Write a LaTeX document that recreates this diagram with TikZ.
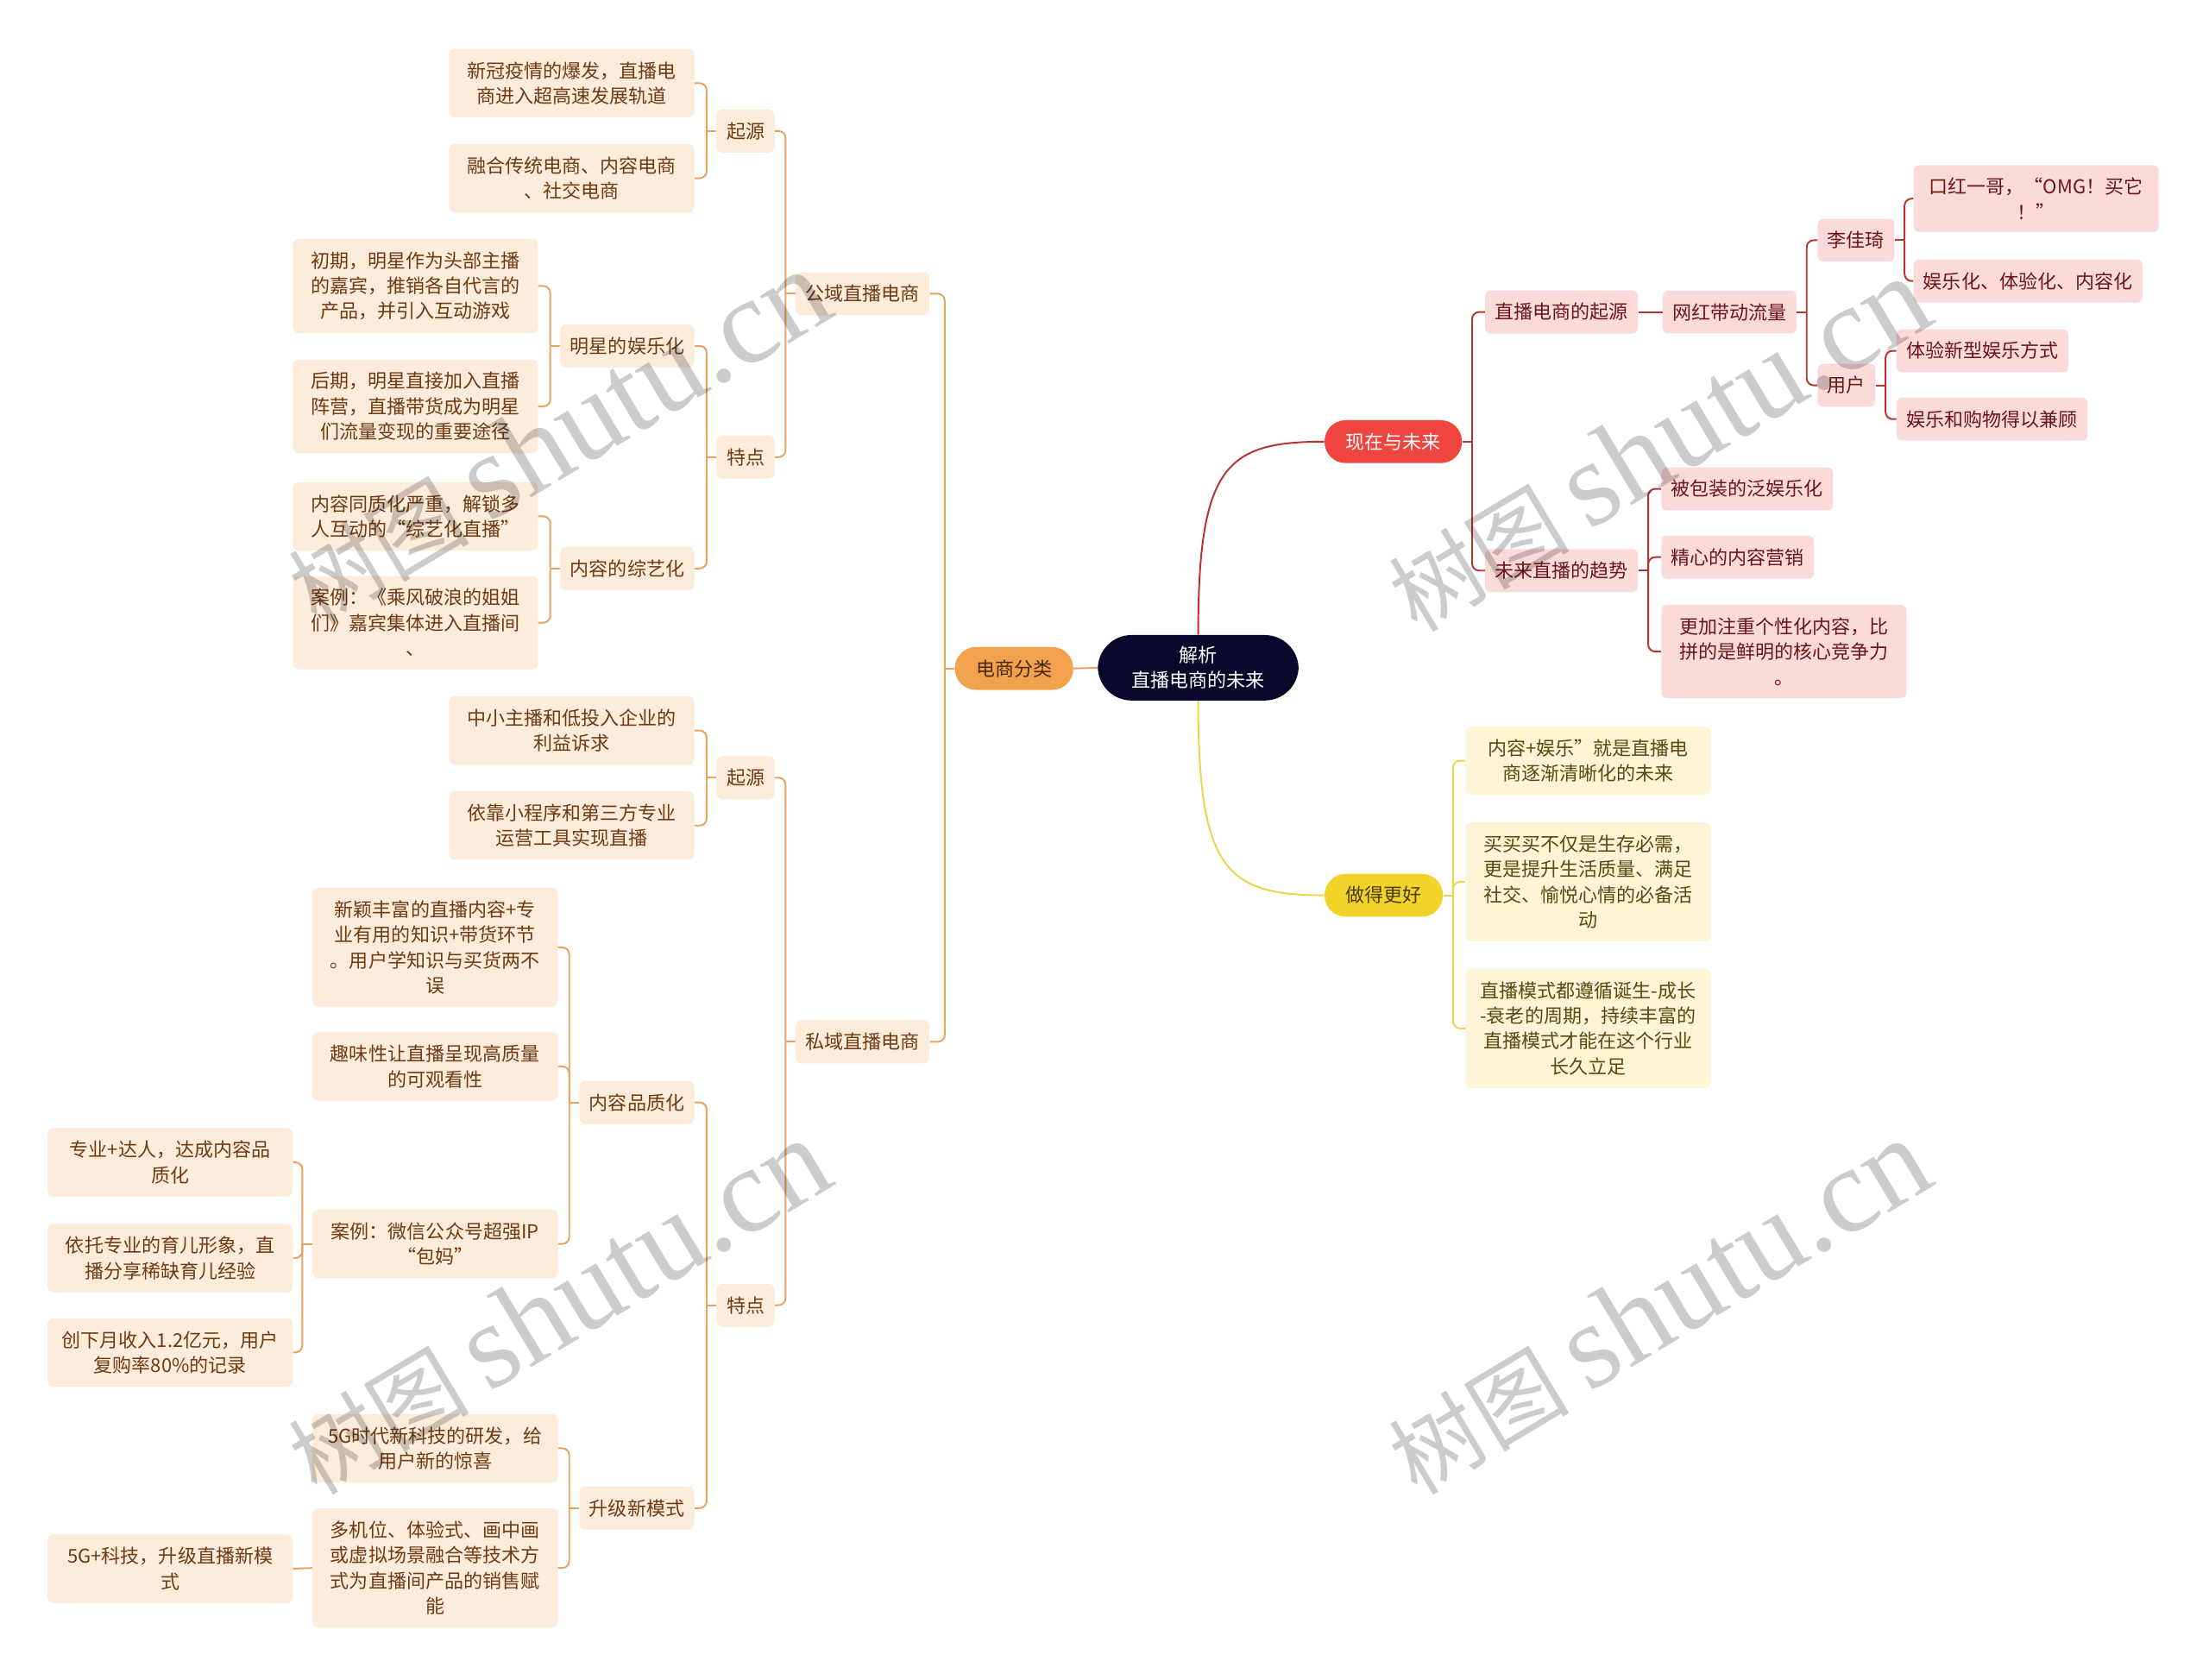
\documentclass[tikz,border=0pt]{standalone}
\usepackage{fontspec}
\usepackage{tikz}
\newfontfamily\cjk{Noto Sans CJK SC}
\newfontfamily\wmlatin{Liberation Serif}

\definecolor{rootbg}{HTML}{08082A}
\definecolor{fenleibg}{HTML}{F2A24D}
\definecolor{fenleitxt}{HTML}{4A2608}
\definecolor{xianzaibg}{HTML}{F0443F}
\definecolor{zuohaobg}{HTML}{F2D32A}
\definecolor{zuohaotxt}{HTML}{4A3C08}
\definecolor{peachbg}{HTML}{FDEBDB}
\definecolor{peachtxt}{HTML}{6E3A12}
\definecolor{peachln}{HTML}{E8A25E}
\definecolor{pinkbg}{HTML}{FBDADA}
\definecolor{pinktxt}{HTML}{6B1616}
\definecolor{pinkln}{HTML}{B8322F}
\definecolor{lemonbg}{HTML}{FDF5D6}
\definecolor{lemontxt}{HTML}{5A4812}
\definecolor{lemonln}{HTML}{EDD44C}

\begin{document}
\begin{tikzpicture}[x=1pt,y=-1pt,
  every node/.style={font=\cjk\fontsize{13.5}{18}\selectfont,align=center,
    inner xsep=7pt,inner ysep=9pt,rounded corners=4pt},
  wbox/.style={text width=158pt,inner xsep=8pt},
  lnode/.style={fill=peachbg,text=peachtxt,anchor=east},
  rnode/.style={fill=pinkbg,text=pinktxt,anchor=west},
  ynode/.style={fill=lemonbg,text=lemontxt,anchor=west},
  pill/.style={rounded corners=15pt,inner xsep=15pt},
  lline/.style={draw=peachln,line width=1.2pt,rounded corners=5pt},
  rline/.style={draw=pinkln,line width=1.2pt,rounded corners=5pt},
  yline/.style={draw=lemonln,line width=1.2pt,rounded corners=5pt},
  wmark/.style={rotate=31,anchor=base,text=black,text opacity=0.2,
    font=\cjk\fontsize{64}{64}\selectfont}]

  \fill[white] (0,0) rectangle (1568,1192);
  \useasboundingbox (0,0) rectangle (1568,1192);

  % centre and first level
  \node[fill=rootbg,text=white,rounded corners=24pt,inner xsep=24pt,inner ysep=8pt]
    (root) at (850.5,474) {解析\\直播电商的未来};
  \node[pill,fill=fenleibg,text=fenleitxt,anchor=east] (fenlei) at (762,474.5) {电商分类};
  \node[pill,fill=xianzaibg,text=white,anchor=west] (xianzai) at (940,313.5) {现在与未来};
  \node[pill,fill=zuohaobg,text=zuohaotxt,anchor=west] (zuohao) at (940,635.5) {做得更好};

  % 公域直播电商
  \node[lnode] (gongyu) at (660,208.5) {公域直播电商};
  \node[lnode] (gyQy) at (550,93) {起源};
  \node[lnode,wbox] (gyQy1) at (493,59) {新冠疫情的爆发，直播电\\商进入超高速发展轨道};
  \node[lnode,wbox] (gyQy2) at (493,126.5) {融合传统电商、内容电商\\、社交电商};
  \node[lnode] (gyTd) at (550,324.5) {特点};
  \node[lnode] (mxYl) at (493,245.5) {明星的娱乐化};
  \node[lnode,wbox] (mxYl1) at (382,203) {初期，明星作为头部主播\\的嘉宾，推销各自代言的\\产品，并引入互动游戏};
  \node[lnode,wbox] (mxYl2) at (382,288.5) {后期，明星直接加入直播\\阵营，直播带货成为明星\\们流量变现的重要途径};
  \node[lnode] (nrZy) at (493,403.5) {内容的综艺化};
  \node[lnode,wbox] (nrZy1) at (382,366.5) {内容同质化严重，解锁多\\人互动的“综艺化直播”};
  \node[lnode,wbox] (nrZy2) at (382,442) {案例：《乘风破浪的姐姐\\们》嘉宾集体进入直播间\\、};

  % 私域直播电商
  \node[lnode] (siyu) at (660,739.5) {私域直播电商};
  \node[lnode] (syQy) at (550,552) {起源};
  \node[lnode,wbox] (syQy1) at (493,518.5) {中小主播和低投入企业的\\利益诉求};
  \node[lnode,wbox] (syQy2) at (493,586) {依靠小程序和第三方专业\\运营工具实现直播};
  \node[lnode] (syTd) at (550,926.5) {特点};
  \node[lnode] (nrPz) at (493,782.5) {内容品质化};
  \node[lnode,wbox] (nrPz1) at (396,672.5) {新颖丰富的直播内容+专\\业有用的知识+带货环节\\。用户学知识与买货两不\\误};
  \node[lnode,wbox] (nrPz2) at (396,757) {趣味性让直播呈现高质量\\的可观看性};
  \node[lnode,wbox] (nrPz3) at (396,883) {案例：微信公众号超强IP\\“包妈”};
  \node[lnode,wbox] (bm1) at (208,825) {专业+达人，达成内容品\\质化};
  \node[lnode,wbox] (bm2) at (208,893) {依托专业的育儿形象，直\\播分享稀缺育儿经验};
  \node[lnode,wbox] (bm3) at (208,960) {创下月收入1.2亿元，用户\\复购率80\%的记录};
  \node[lnode] (sjMs) at (493,1070.5) {升级新模式};
  \node[lnode,wbox] (sjMs1) at (396,1028) {5G时代新科技的研发，给\\用户新的惊喜};
  \node[lnode,wbox] (sjMs2) at (396,1113) {多机位、体验式、画中画\\或虚拟场景融合等技术方\\式为直播间产品的销售赋\\能};
  \node[lnode,wbox] (sjMs2a) at (208,1113.5) {5G+科技，升级直播新模\\式};

  % 现在与未来
  \node[rnode] (qiyuan) at (1054,221.5) {直播电商的起源};
  \node[rnode] (wanghong) at (1180,221.5) {网红带动流量};
  \node[rnode] (ljq) at (1290,170.5) {李佳琦};
  \node[rnode,wbox] (ljq1) at (1358,141) {口红一哥，“OMG！买它\\！”};
  \node[rnode] (ljq2) at (1358,199.5) {娱乐化、体验化、内容化};
  \node[rnode] (yonghu) at (1290,273.5) {用户};
  \node[rnode] (yh1) at (1346,249) {体验新型娱乐方式};
  \node[rnode] (yh2) at (1346,297.5) {娱乐和购物得以兼顾};
  \node[rnode] (qushi) at (1054,405) {未来直播的趋势};
  \node[rnode] (qs1) at (1179,347) {被包装的泛娱乐化};
  \node[rnode] (qs2) at (1179,395.5) {精心的内容营销};
  \node[rnode,wbox] (qs3) at (1179,462.5) {更加注重个性化内容，比\\拼的是鲜明的核心竞争力\\。};

  % 做得更好
  \node[ynode,wbox] (zh1) at (1040,540) {内容+娱乐”就是直播电\\商逐渐清晰化的未来};
  \node[ynode,wbox] (zh2) at (1040,626) {买买买不仅是生存必需，\\更是提升生活质量、满足\\社交、愉悦心情的必备活\\动};
  \node[ynode,wbox] (zh3) at (1040,730) {直播模式都遵循诞生-成长\\-衰老的周期，持续丰富的\\直播模式才能在这个行业\\长久立足};

  % connectors from the centre
  \draw[lline] (root.west) -- (fenlei.east);
  \draw[rline] (root.north) .. controls +(0,-120) and +(-70,0) .. (xianzai.west);
  \draw[yline] (root.south) .. controls +(0,120) and +(-70,0) .. (zuohao.west);

  % left side
  \draw[lline] (fenlei.west) -- ++(-7,0) coordinate (fenleiJ);
  \draw[lline] (fenleiJ) |- (gongyu.east);
  \draw[lline] (fenleiJ) |- (siyu.east);
  \draw[lline] (gongyu.west) -- ++(-7,0) coordinate (gongyuJ);
  \draw[lline] (gongyuJ) |- (gyQy.east);
  \draw[lline] (gongyuJ) |- (gyTd.east);
  \draw[lline] (gyQy.west) -- ++(-7,0) coordinate (gyQyJ);
  \draw[lline] (gyQyJ) |- (gyQy1.east);
  \draw[lline] (gyQyJ) |- (gyQy2.east);
  \draw[lline] (gyTd.west) -- ++(-7,0) coordinate (gyTdJ);
  \draw[lline] (gyTdJ) |- (mxYl.east);
  \draw[lline] (gyTdJ) |- (nrZy.east);
  \draw[lline] (mxYl.west) -- ++(-7,0) coordinate (mxYlJ);
  \draw[lline] (mxYlJ) |- (mxYl1.east);
  \draw[lline] (mxYlJ) |- (mxYl2.east);
  \draw[lline] (nrZy.west) -- ++(-7,0) coordinate (nrZyJ);
  \draw[lline] (nrZyJ) |- (nrZy1.east);
  \draw[lline] (nrZyJ) |- (nrZy2.east);
  \draw[lline] (siyu.west) -- ++(-7,0) coordinate (siyuJ);
  \draw[lline] (siyuJ) |- (syQy.east);
  \draw[lline] (siyuJ) |- (syTd.east);
  \draw[lline] (syQy.west) -- ++(-7,0) coordinate (syQyJ);
  \draw[lline] (syQyJ) |- (syQy1.east);
  \draw[lline] (syQyJ) |- (syQy2.east);
  \draw[lline] (syTd.west) -- ++(-7,0) coordinate (syTdJ);
  \draw[lline] (syTdJ) |- (nrPz.east);
  \draw[lline] (syTdJ) |- (sjMs.east);
  \draw[lline] (nrPz.west) -- ++(-7,0) coordinate (nrPzJ);
  \draw[lline] (nrPzJ) |- (nrPz1.east);
  \draw[lline] (nrPzJ) |- (nrPz2.east);
  \draw[lline] (nrPzJ) |- (nrPz3.east);
  \draw[lline] (nrPz3.west) -- ++(-7,0) coordinate (nrPz3J);
  \draw[lline] (nrPz3J) |- (bm1.east);
  \draw[lline] (nrPz3J) |- (bm2.east);
  \draw[lline] (nrPz3J) |- (bm3.east);
  \draw[lline] (sjMs.west) -- ++(-7,0) coordinate (sjMsJ);
  \draw[lline] (sjMsJ) |- (sjMs1.east);
  \draw[lline] (sjMsJ) |- (sjMs2.east);
  \draw[lline] (sjMs2.west) -- (sjMs2a.east);

  % right side
  \draw[rline] (xianzai.east) -- ++(7,0) coordinate (xianzaiJ);
  \draw[rline] (xianzaiJ) |- (qiyuan.west);
  \draw[rline] (xianzaiJ) |- (qushi.west);
  \draw[rline] (qiyuan.east) -- (wanghong.west);
  \draw[rline] (wanghong.east) -- ++(7,0) coordinate (wanghongJ);
  \draw[rline] (wanghongJ) |- (ljq.west);
  \draw[rline] (wanghongJ) |- (yonghu.west);
  \draw[rline] (ljq.east) -- ++(7,0) coordinate (ljqJ);
  \draw[rline] (ljqJ) |- (ljq1.west);
  \draw[rline] (ljqJ) |- (ljq2.west);
  \draw[rline] (yonghu.east) -- ++(7,0) coordinate (yonghuJ);
  \draw[rline] (yonghuJ) |- (yh1.west);
  \draw[rline] (yonghuJ) |- (yh2.west);
  \draw[rline] (qushi.east) -- ++(7,0) coordinate (qushiJ);
  \draw[rline] (qushiJ) |- (qs1.west);
  \draw[rline] (qushiJ) |- (qs2.west);
  \draw[rline] (qushiJ) |- (qs3.west);
  \draw[yline] (zuohao.east) -- ++(7,0) coordinate (zuohaoJ);
  \draw[yline] (zuohaoJ) |- (zh1.west);
  \draw[yline] (zuohaoJ) |- (zh2.west);
  \draw[yline] (zuohaoJ) |- (zh3.west);

  % watermarks
  \node[wmark] (wm1) at (410,334) {树图 {\wmlatin\fontsize{86}{86}\selectfont shutu.cn}};
  \node[wmark] (wm2) at (1191,339) {树图 {\wmlatin\fontsize{86}{86}\selectfont shutu.cn}};
  \node[wmark] (wm3) at (410,951) {树图 {\wmlatin\fontsize{86}{86}\selectfont shutu.cn}};
  \node[wmark] (wm4) at (1191,951) {树图 {\wmlatin\fontsize{86}{86}\selectfont shutu.cn}};
\end{tikzpicture}
\end{document}
